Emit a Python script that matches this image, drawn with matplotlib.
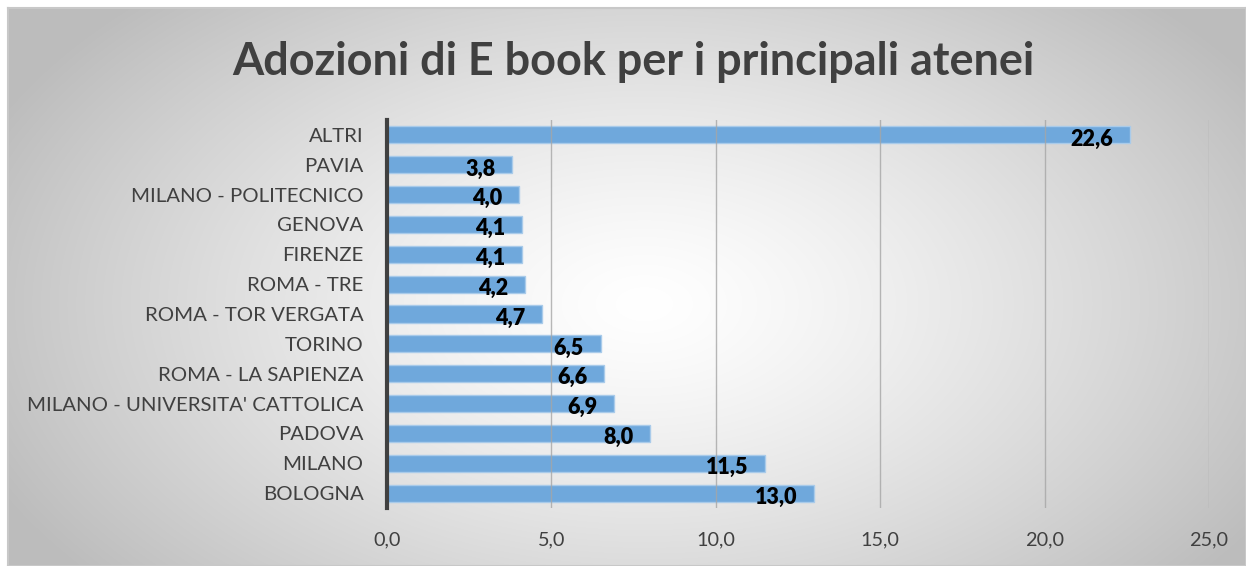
import numpy as np
import matplotlib.pyplot as plt

atenei = ['ALTRI', 'PAVIA', 'MILANO - POLITECNICO', 'GENOVA', 'FIRENZE', 'ROMA - TRE',
          'ROMA - TOR VERGATA', 'TORINO', 'ROMA - LA SAPIENZA',
          "MILANO - UNIVERSITA' CATTOLICA", 'PADOVA', 'MILANO', 'BOLOGNA']
valori = [22.6, 3.8, 4.0, 4.1, 4.1, 4.2, 4.7, 6.5, 6.6, 6.9, 8.0, 11.5, 13.0]
ticks = [0, 5, 10, 15, 20, 25]

plt.rcParams['font.family'] = ['Lato', 'DejaVu Sans']

W, H = 1246, 566
fig = plt.figure(figsize=(W / 100, H / 100), dpi=100)
fig.patch.set_facecolor('white')

# sfondo con gradiente radiale
bg = fig.add_axes([8 / W, 0, 1 - 8 / W, 1 - 8 / H])
yy, xx = np.mgrid[0:H, 0:W]
r = np.sqrt(((xx - 640) / 700) ** 2 + ((yy - 300) / 420) ** 2)
g = np.clip(1 - 0.25 * r ** 1.3, 0.74, 1)
bg.imshow(np.dstack([g, g, g]), aspect='auto', extent=[0, 1, 0, 1])
bg.set_xticks([])
bg.set_yticks([])
for s in bg.spines.values():
    s.set_color('#c8c8c8')
    s.set_linewidth(1.5)

left, right = 387 / W, 1209 / W
top, bottom = 1 - 120 / H, 1 - 508 / H
ax = fig.add_axes([left, bottom, right - left, top - bottom])
ax.patch.set_alpha(0)

y = np.arange(len(atenei))
ax.barh(y, valori, height=0.57, color='#6fa8dc', edgecolor='#a9cbea',
        linewidth=1, zorder=2)
ax.set_ylim(len(atenei) - 0.5, -0.5)
ax.set_xlim(0, 25)
ax.set_yticks(y)
ax.set_yticklabels(atenei, fontsize=14.7, color='#404040')
ax.set_xticks(ticks)
ax.set_xticklabels([f'{t:.1f}'.replace('.', ',') for t in ticks], fontsize=14.3, color='#404040')
ax.tick_params(length=0)
ax.tick_params(axis='y', pad=17)
ax.tick_params(axis='x', pad=17)
for x in ticks[1:]:
    ax.axvline(x, color='#a6a6a6', linewidth=1, zorder=3, alpha=0.8)
for s in ['top', 'right', 'bottom']:
    ax.spines[s].set_visible(False)
ax.spines['left'].set_color('#404040')
ax.spines['left'].set_linewidth(3)
ax.spines['left'].set_zorder(4)

for yi, v in zip(y, valori):
    ax.annotate(f'{v:.1f}'.replace('.', ','), (v, yi), xytext=(-12, -3),
                textcoords='offset points', ha='right', va='center',
                fontsize=15.5, fontweight='heavy', color='black', zorder=5)

fig.text(633 / W, 1 - 62 / H, 'Adozioni di E book per i principali atenei',
         ha='center', va='center', fontsize=32.4, fontweight='bold', color='#404040')

fig.savefig('out.png', dpi=100)
